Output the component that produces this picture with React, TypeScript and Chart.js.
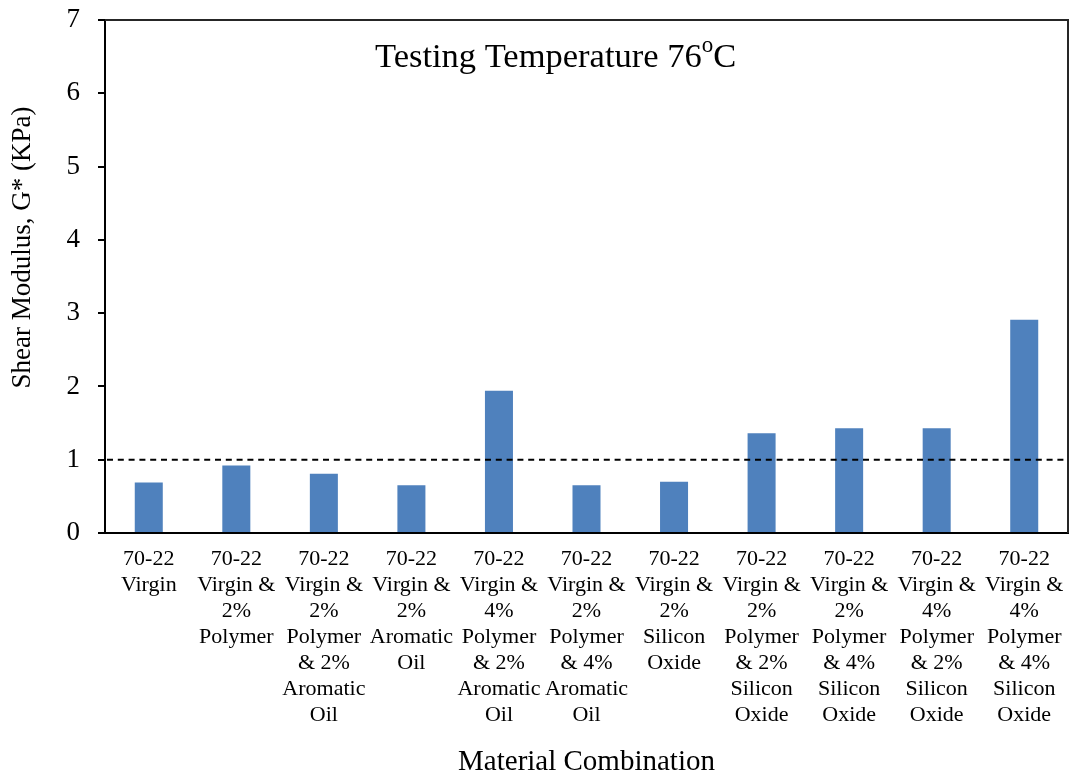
import React, { useEffect, useRef } from "react";
import { Chart, registerables } from "chart.js";

Chart.register(...registerables);

// ---- Data ----
const categories: string[][] = [
  ["70-22", "Virgin"],
  ["70-22", "Virgin &", "2%", "Polymer"],
  ["70-22", "Virgin &", "2%", "Polymer", "& 2%", "Aromatic", "Oil"],
  ["70-22", "Virgin &", "2%", "Aromatic", "Oil"],
  ["70-22", "Virgin &", "4%", "Polymer", "& 2%", "Aromatic", "Oil"],
  ["70-22", "Virgin &", "2%", "Polymer", "& 4%", "Aromatic", "Oil"],
  ["70-22", "Virgin &", "2%", "Silicon", "Oxide"],
  ["70-22", "Virgin &", "2%", "Polymer", "& 2%", "Silicon", "Oxide"],
  ["70-22", "Virgin &", "2%", "Polymer", "& 4%", "Silicon", "Oxide"],
  ["70-22", "Virgin &", "4%", "Polymer", "& 2%", "Silicon", "Oxide"],
  ["70-22", "Virgin &", "4%", "Polymer", "& 4%", "Silicon", "Oxide"],
];
const shearModulus: number[] = [0.69, 0.92, 0.81, 0.65, 1.94, 0.65, 0.7, 1.36, 1.43, 1.43, 2.91];
const thresholdValue = 1;
const yMin = 0;
const yMax = 7;
const yStep = 1;

const titleMain = "Testing Temperature 76";
const titleSup = "o";
const titleEnd = "C";
const xTitle = "Material Combination";
const yTitle = "Shear Modulus, G* (KPa)";

const FONT = "'Times New Roman', 'Liberation Serif', serif";
const BAR_COLOR = "#4F81BD";

const overlayPlugin = {
  id: "overlay",
  afterDatasetsDraw(chart: any) {
    const { ctx, chartArea: a, scales } = chart;
    const y = scales.y.getPixelForValue(thresholdValue);
    ctx.save();
    // dashed threshold line
    ctx.beginPath();
    ctx.setLineDash([6, 4.8]);
    ctx.lineWidth = 2;
    ctx.strokeStyle = "#000";
    ctx.moveTo(a.left + 2, y);
    ctx.lineTo(a.right, y);
    ctx.stroke();
    ctx.setLineDash([]);
    // top & right frame
    ctx.beginPath();
    ctx.lineWidth = 2;
    ctx.strokeStyle = "#262626";
    ctx.moveTo(a.left, a.top);
    ctx.lineTo(a.right, a.top);
    ctx.lineTo(a.right, a.bottom);
    ctx.stroke();
    // in-plot title with superscript
    const x0 = a.left + 270;
    const base = a.top + 47;
    ctx.fillStyle = "#000";
    ctx.textBaseline = "alphabetic";
    ctx.textAlign = "left";
    ctx.font = `34.5px ${FONT}`;
    ctx.fillText(titleMain, x0, base);
    let x = x0 + ctx.measureText(titleMain).width;
    ctx.font = `23px ${FONT}`;
    ctx.fillText(titleSup, x, base - 15);
    x += ctx.measureText(titleSup).width;
    ctx.font = `34.5px ${FONT}`;
    ctx.fillText(titleEnd, x, base);
    // y-axis title (rotated)
    ctx.save();
    ctx.translate(23, 247.5);
    ctx.rotate(-Math.PI / 2);
    ctx.textAlign = "center";
    ctx.textBaseline = "middle";
    ctx.font = `27px ${FONT}`;
    ctx.fillText(yTitle, 0, 0);
    ctx.restore();
    ctx.restore();
  },
};

export default function App() {
  const ref = useRef<HTMLCanvasElement | null>(null);

  useEffect(() => {
    if (!ref.current) return;
    Chart.defaults.font.family = FONT;
    const chart = new Chart(ref.current, {
      type: "bar",
      data: {
        labels: categories,
        datasets: [
          {
            data: shearModulus,
            backgroundColor: BAR_COLOR,
            borderWidth: 0,
            categoryPercentage: 1,
            barPercentage: 0.32,
          },
        ],
      },
      options: {
        responsive: false,
        animation: false,
        devicePixelRatio: 1,
        layout: { padding: { top: 20, right: 2, left: 0, bottom: 0 } },
        plugins: {
          legend: { display: false },
          tooltip: { enabled: false },
          title: { display: false },
        },
        scales: {
          x: {
            offset: true,
            grid: { display: false },
            border: { display: true, color: "#000", width: 2 },
            ticks: {
              color: "#000",
              font: { family: FONT, size: 22, lineHeight: 1.18 },
              padding: 5,
              autoSkip: false,
              maxRotation: 0,
              minRotation: 0,
            },
            title: {
              display: true,
              text: xTitle,
              color: "#000",
              font: { family: FONT, size: 29, lineHeight: 1.0 },
              padding: { top: 0, bottom: 0 },
            },
            afterFit: (s: any) => {
              s.height = 244;
              s.paddingLeft = 0;
              s.paddingRight = 0;
              s.paddingTop = 0;
              s.paddingBottom = 0;
            },
          },
          y: {
            min: yMin,
            max: yMax,
            grid: {
              display: true,
              drawOnChartArea: false,
              drawTicks: true,
              tickLength: 7,
              color: "#000",
              lineWidth: 2,
            },
            border: { display: true, color: "#000", width: 2 },
            ticks: {
              stepSize: yStep,
              color: "#000",
              font: { family: FONT, size: 27, lineHeight: 1.2 },
              padding: 18,
            },
            title: { display: false },
            afterFit: (s: any) => {
              s.width = 105;
              s.paddingTop = 0;
              s.paddingBottom = 0;
              s.paddingLeft = 0;
              s.paddingRight = 0;
            },
          },
        },
      },
      plugins: [overlayPlugin],
    });
    return () => chart.destroy();
  }, []);

  return (
    <div
      style={{
        position: "fixed",
        left: 0,
        top: 0,
        width: 1070,
        height: 777,
        background: "#fff",
      }}
    >
      <canvas ref={ref} width={1070} height={777} style={{ width: 1070, height: 777, display: "block" }} />
    </div>
  );
}
